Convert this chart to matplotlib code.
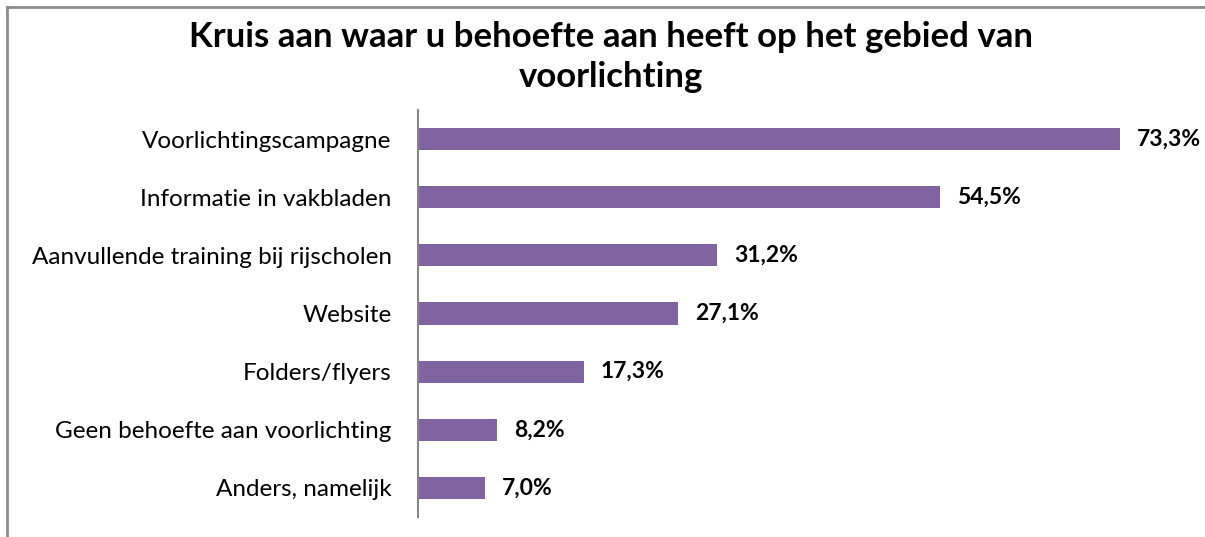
import matplotlib
matplotlib.use("Agg")
import matplotlib.pyplot as plt
from matplotlib.lines import Line2D

# data
categories = [
    "Voorlichtingscampagne",
    "Informatie in vakbladen",
    "Aanvullende training bij rijscholen",
    "Website",
    "Folders/flyers",
    "Geen behoefte aan voorlichting",
    "Anders, namelijk",
]
values = [73.3, 54.5, 31.2, 27.1, 17.3, 8.2, 7.0]
labels = ["73,3%", "54,5%", "31,2%", "27,1%", "17,3%", "8,2%", "7,0%"]
title = "Kruis aan waar u behoefte aan heeft op het gebied van\nvoorlichting"

plt.rcParams['font.family'] = ['Lato', 'DejaVu Sans']

fig = plt.figure(figsize=(12.05, 5.37), dpi=100)
ax = fig.add_axes([0.3469, 0.0372, 0.6357, 0.758])

pos = list(range(len(categories)))
ax.barh(pos, values, height=0.38, color="#8064A2")
ax.set_ylim(len(categories) - 0.5, -0.5)
ax.set_xlim(0, 80)

for p, v, t in zip(pos, values, labels):
    ax.text(v + 1.8, p, t, va="center", ha="left", fontsize=16.5,
            fontweight="bold", color="black")

ax.set_yticks(pos)
ax.set_yticklabels(categories, fontsize=17.5)
ax.tick_params(axis="y", length=0, pad=19)
ax.set_xticks([])
for s in ["top", "right", "bottom"]:
    ax.spines[s].set_visible(False)
ax.spines["left"].set_color("#868686")
ax.spines["left"].set_linewidth(1.5)

fig.text(0.507, 0.96, title, ha="center", va="top", fontsize=25,
         fontweight="bold", linespacing=1.3)

# outer frame (top and left only)
fig.add_artist(Line2D([0.0058, 1.0], [0.987, 0.987], color="#8c8c8c", lw=2,
                      transform=fig.transFigure))
fig.add_artist(Line2D([0.0058, 0.0058], [0.0, 0.987], color="#8c8c8c", lw=2,
                      transform=fig.transFigure))

fig.savefig("out.png", dpi=100)
